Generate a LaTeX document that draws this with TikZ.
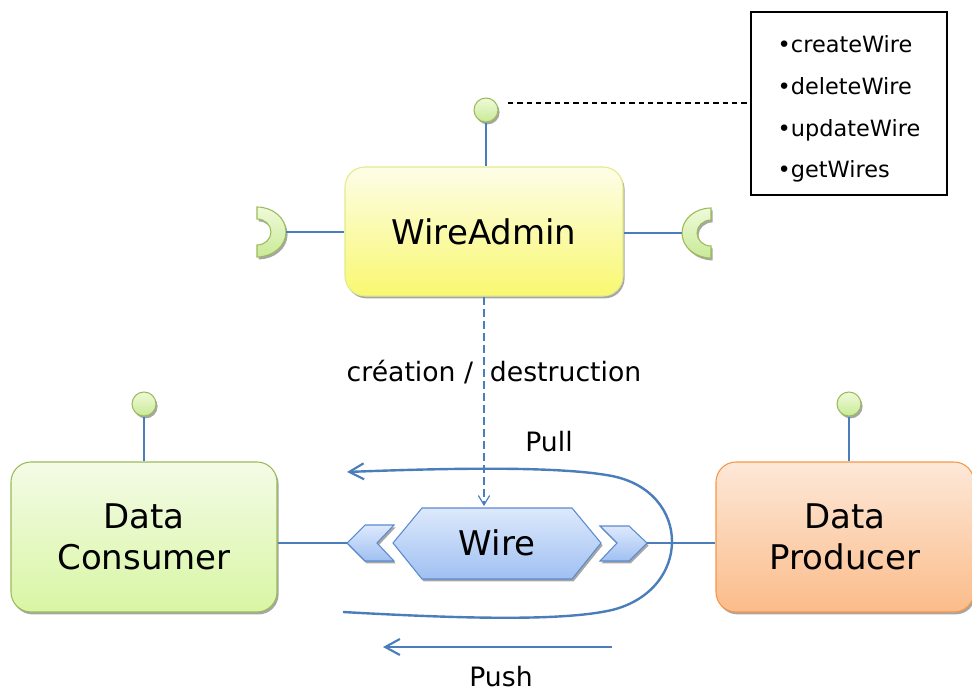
\documentclass[tikz,border=0pt]{standalone}
\usepackage{fontspec}
\setmainfont{DejaVu Sans}
\usetikzlibrary{shadows,arrows.meta,calc}
\definecolor{linkblue}{HTML}{4A7EBB}
\definecolor{waTop}{HTML}{FDFDE8}
\definecolor{waBot}{HTML}{F9F870}
\definecolor{waBorder}{HTML}{E2EA8C}
\definecolor{grTop}{HTML}{F4FBE6}
\definecolor{grBot}{HTML}{D8F6A4}
\definecolor{grBorder}{HTML}{9BBB59}
\definecolor{orTop}{HTML}{FDE8D8}
\definecolor{orBot}{HTML}{FBBC8A}
\definecolor{orBorder}{HTML}{F79646}
\definecolor{blTop}{HTML}{DDE9FC}
\definecolor{blBot}{HTML}{A0C0F2}
\definecolor{blBorder}{HTML}{5B8BCF}
\definecolor{lpTop}{HTML}{EFFADA}
\definecolor{lpBot}{HTML}{C9EA96}
\tikzset{
  shad/.style={drop shadow={shadow xshift=1.2pt, shadow yshift=-1.8pt, fill=black!50, opacity=0.7}},
  bigtext/.style={font=\fontsize{25.5}{31}\selectfont, align=center},
  compbox/.style={rounded corners=15pt, shad, bigtext, line width=0.8pt},
  wabox/.style={compbox, draw=waBorder, top color=waTop, bottom color=waBot, minimum width=208.5pt, minimum height=96.75pt},
  consbox/.style={compbox, draw=grBorder, top color=grTop, bottom color=grBot, minimum width=199.5pt, minimum height=112.5pt},
  prodbox/.style={compbox, draw=orBorder, top color=orTop, bottom color=orBot, minimum width=193.5pt, minimum height=112.5pt},
  lolli/.style={circle, minimum size=18pt, inner sep=0pt, draw=grBorder, line width=0.8pt, top color=lpTop, bottom color=lpBot, shad},
  socket/.style={draw=grBorder, line width=0.8pt, top color=lpTop, bottom color=lpBot, shad},
  wirefill/.style={draw=blBorder, line width=0.8pt, top color=blTop, bottom color=blBot, shad},
  link/.style={draw=linkblue, line width=0.9pt},
  flow/.style={draw=linkblue, line width=1.8pt, -{Straight Barb[length=11pt,width=12pt,line width=1.6pt]}},
  dasharrow/.style={draw=linkblue, line width=0.9pt, dash pattern=on 6pt off 3pt, -{Straight Barb[length=7pt,width=8.5pt,line width=0.9pt]}},
  lbl/.style={font=\fontsize{20}{24}\selectfont},
  listbox/.style={draw=black, line width=1.1pt, minimum width=147pt, minimum height=137.25pt, inner sep=0pt},
  listtext/.style={font=\fontsize{16.8}{31.3}\selectfont, align=left, inner sep=0pt}
}
\begin{document}
\begin{tikzpicture}[x=0.75pt,y=-0.75pt]
\useasboundingbox (0,0) rectangle (972,692);

% list box and dashed connector
\node[listbox] (list) at (849,103.5) {};
\node[listtext] (listtxt) at (849,109) {•createWire\\•deleteWire\\•updateWire\\•getWires};

% WireAdmin
\node[wabox] (wa) at (484,231.5) {WireAdmin};
\node[lolli] (lpa) at (486,110) {};
\draw[link] (lpa.south) -- (lpa.south |- wa.north);
\coordinate (dstart) at (508,103);
\draw[black, line width=0.8pt, dash pattern=on 4pt off 3pt] (dstart) -- (dstart -| list.west);

% sockets of WireAdmin
\path[socket] (257,207) arc[start angle=-90, end angle=90, x radius=29, y radius=25] -- (257,245) arc[start angle=90, end angle=-90, x radius=14, y radius=13] -- cycle;
\coordinate (sockL) at (286,232);
\draw[link] (sockL) -- (wa.west |- sockL);
\path[socket] (711,208) arc[start angle=270, end angle=90, x radius=29, y radius=25] -- (711,246) arc[start angle=90, end angle=270, x radius=14, y radius=13] -- cycle;
\coordinate (sockR) at (682,233);
\draw[link] (wa.east |- sockR) -- (sockR);

% Data Consumer / Producer
\node[consbox] (cons) at (144,537) {Data\\Consumer};
\node[lolli] (lpc) at (144,404) {};
\draw[link] (lpc.south) -- (lpc.south |- cons.north);
\node[prodbox] (prod) at (845,537) {Data\\Producer};
\node[lolli] (lpp) at (849,404) {};
\draw[link] (lpp.south) -- (lpp.south |- prod.north);

% Wire
\node[minimum width=156pt, minimum height=53.25pt, inner sep=0pt] (wire) at (497,543) {};
\path[wirefill] (393,543) -- (422,508) -- (572,508) -- (601,543) -- (572,579) -- (422,579) -- cycle;
\node[bigtext] (wirelbl) at (wire.center) {Wire};
% chevrons
\path[wirefill] (347,543) -- (365,525) -- (394,525) -- (377,543) -- (394,561) -- (365,561) -- cycle;
\path[wirefill] (600,526) -- (629,526) -- (647,543) -- (629,561) -- (600,561) -- (617,543) -- cycle;
\coordinate (lchev) at (347,543);
\coordinate (rchev) at (647,543);
\draw[link] (cons.east |- lchev) -- (lchev);
\draw[link] (rchev) -- (prod.west |- rchev);

% creation / destruction
\draw[dasharrow] (wa.south -| 484,0) -- (484,506);
\node[lbl] (cd) at (494,372) {création /\ \ destruction};

% Pull
\coordinate (pullstart) at (343,612);
\coordinate (pullend) at (347,472);
\draw[flow] (pullstart) .. controls (450,618) and (560,622) .. (612,610) .. controls (692,590) and (692,492) .. (612,476) .. controls (560,466) and (450,468) .. (pullend);
\node[lbl] (pull) at (549,442) {Pull};

% Push
\coordinate (pushstart) at (612,647);
\coordinate (pushend) at (383,647);
\draw[flow] (pushstart) -- (pushend);
\node[lbl] (push) at (501,677) {Push};
\end{tikzpicture}
\end{document}
